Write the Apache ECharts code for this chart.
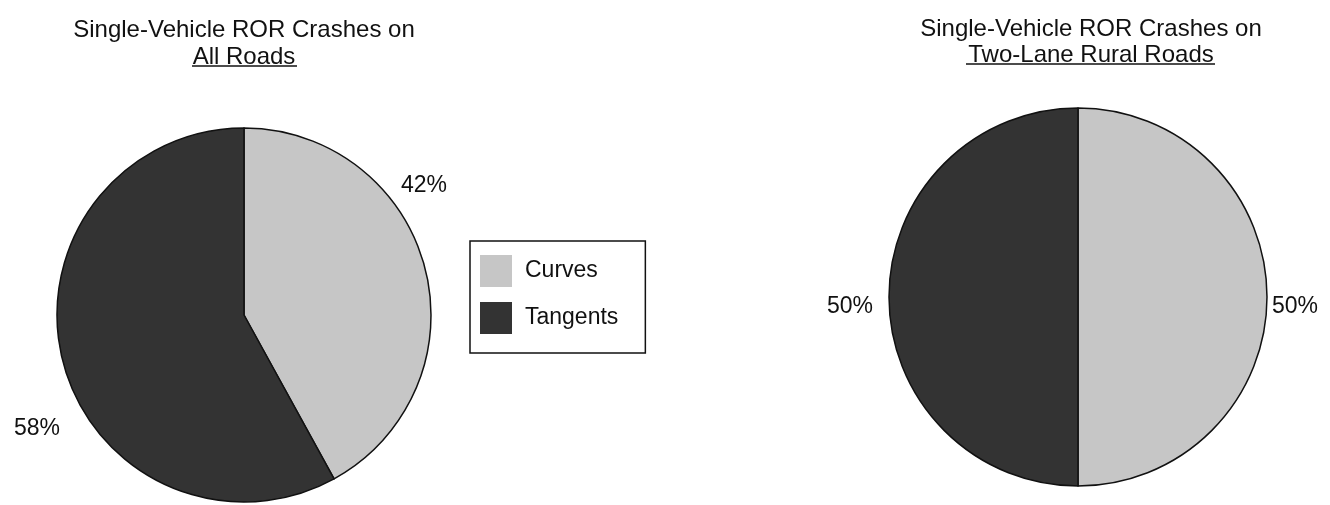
<!DOCTYPE html>
<html>
<head>
    <meta charset="utf-8" />
    <script src="https://cdn.jsdelivr.net/npm/echarts@6/dist/echarts.min.js"></script>
    <title>ROR Crashes</title>
    <style>
        html, body { margin: 0; padding: 0; background: #fff; }
        #main { width: 1330px; height: 505px; }
    </style>
</head>
<body>
    <div id="main"></div>
</body>
</html>
<script type="text/javascript">
// data
var categories = ['Curves', 'Tangents'];
var allRoads = [42, 58];
var twoLaneRural = [50, 50];
var titleLine1 = 'Single-Vehicle ROR Crashes on';
var subTitles = ['All Roads', 'Two-Lane Rural Roads'];

var colors = ['#c6c6c6', '#333333'];
var font = 'Arial, "Liberation Sans", sans-serif';

function toData(values) {
    return values.map(function (v, i) {
        return { name: categories[i], value: v };
    });
}

// where the percent labels sit in the original
var labelPos = [
    [[424, 186], [37, 429]],
    [[1295, 307], [850, 307]]
];

function pieSeries(idx, values, center, radius) {
    return {
        type: 'pie',
        center: center,
        radius: radius,
        startAngle: 90,
        clockwise: true,
        avoidLabelOverlap: false,
        silent: true,
        data: toData(values),
        itemStyle: {
            borderColor: '#111',
            borderWidth: 1.5
        },
        label: {
            show: true,
            position: 'outside',
            formatter: '{c}%',
            color: '#111',
            fontSize: 23,
            fontFamily: font
        },
        labelLine: { show: false },
        labelLayout: function (params) {
            var p = labelPos[idx][params.dataIndex];
            return { x: p[0], y: p[1], align: 'center', verticalAlign: 'middle' };
        }
    };
}

var myChart = echarts.init(document.getElementById('main'));
var option = {
    color: colors,
    animation: false,
    legend: {
        data: categories,
        orient: 'vertical',
        left: 470,
        top: 241,
        itemWidth: 32,
        itemHeight: 32,
        itemGap: 15,
        icon: 'rect',
        padding: [14, 27, 19, 10],
        borderColor: '#111',
        borderWidth: 1.5,
        itemStyle: { borderWidth: 0 },
        textStyle: {
            color: '#111',
            fontSize: 23,
            fontFamily: font,
            padding: [0, 0, 0, 8]
        }
    },
    graphic: [
        {
            type: 'text', x: 244, y: 17,
            style: {
                text: titleLine1 + '\n' + subTitles[0],
                textAlign: 'center',
                fill: '#111',
                font: '24px ' + font,
                lineHeight: 27
            }
        },
        {
            type: 'line',
            shape: { x1: 192, y1: 66, x2: 297, y2: 66 },
            style: { stroke: '#111', lineWidth: 1.5 }
        },
        {
            type: 'text', x: 1091, y: 16,
            style: {
                text: titleLine1 + '\n' + subTitles[1],
                textAlign: 'center',
                fill: '#111',
                font: '24px ' + font,
                lineHeight: 26
            }
        },
        {
            type: 'line',
            shape: { x1: 966, y1: 64, x2: 1215, y2: 64 },
            style: { stroke: '#111', lineWidth: 1.5 }
        }
    ],
    series: [
        pieSeries(0, allRoads, [244, 315], 187),
        pieSeries(1, twoLaneRural, [1078, 297], 189)
    ]
};
myChart.setOption(option);
</script>
